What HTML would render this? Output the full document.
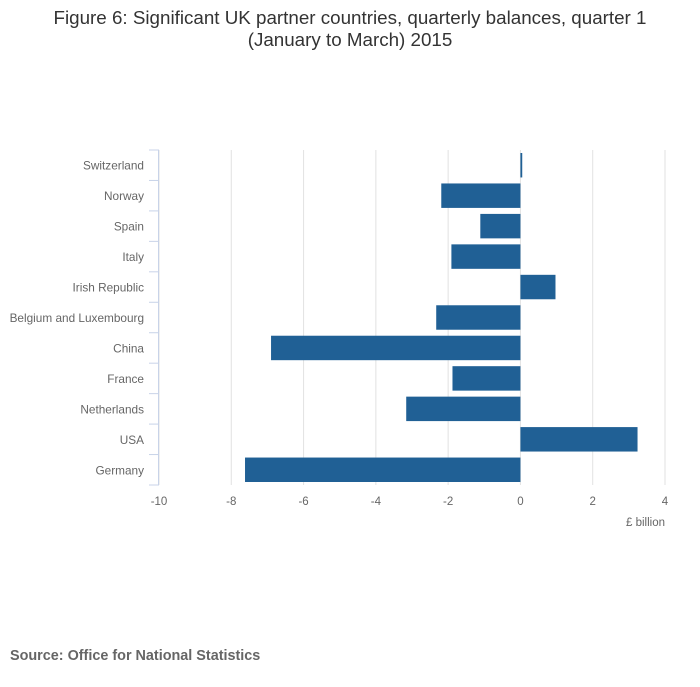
<!DOCTYPE html>
<html><head><meta charset="utf-8"><style>
body{margin:0;background:#fff;font-family:"Liberation Sans","DejaVu Sans",sans-serif}
</style></head><body>
<svg width="700" height="682" xmlns="http://www.w3.org/2000/svg">
<text x="350" y="24" text-anchor="middle" font-size="18.8" fill="#333">Figure 6: Significant UK partner countries, quarterly balances, quarter 1</text>
<text x="350" y="46" text-anchor="middle" font-size="18.8" fill="#333">(January to March) 2015</text>
<g id="grid"></g>
<g id="bars"></g>
<g id="axes"></g>
<text x="665" y="526" text-anchor="end" font-size="11.5" fill="#666">£ billion</text>
<text x="10" y="660" font-size="14.4" font-weight="bold" fill="#666">Source: Office for National Statistics</text>
</svg>
<script>
const categories=["Switzerland","Norway","Spain","Italy","Irish Republic","Belgium and Luxembourg","China","France","Netherlands","USA","Germany"];
const values=[0.05,-2.19,-1.11,-1.91,0.97,-2.33,-6.9,-1.88,-3.16,3.24,-7.62];
const xTicks=[-10,-8,-6,-4,-2,0,2,4];
const NS="http://www.w3.org/2000/svg";
const x0=159,x1=665,xmin=-10,xmax=4,yTop=150,yBottom=485;
const xs=v=>x0+(v-xmin)/(xmax-xmin)*(x1-x0);
const band=(yBottom-yTop)/categories.length;
const ys=i=>yTop+i*band;
function mk(t,a,p){const e=document.createElementNS(NS,t);for(const k in a)e.setAttribute(k,a[k]);p.appendChild(e);return e;}
const grid=document.getElementById('grid'),bars=document.getElementById('bars'),axes=document.getElementById('axes');
xTicks.forEach(t=>{
 const l=mk('line',{x1:xs(t),x2:xs(t),y1:yTop,y2:yBottom,stroke:'#e2e2e2','stroke-width':1},grid);
 
 
 const tx=mk('text',{x:xs(t),y:505,'text-anchor':'middle','font-size':11.5,fill:'#666'},axes);
 tx.textContent=t;
 
 
});
mk('line',{x1:x0-0.5,x2:x0-0.5,y1:yTop,y2:yBottom,stroke:'#c8d3e8','stroke-width':1},axes);
categories.forEach((c,i)=>{
 const y=ys(i);
 mk('line',{x1:x0-10,x2:x0,y1:y,y2:y,stroke:'#c8d3e8'},axes);
 if(i==categories.length-1)mk('line',{x1:x0-10,x2:x0,y1:y+band,y2:y+band,stroke:'#c8d3e8'},axes);
 const tx=mk('text',{x:144,y:y+band/2+4.5,'text-anchor':'end','font-size':11.8,fill:'#666'},axes);
 tx.textContent=c;
 
 
 const v=values[i];
 const r=mk('rect',{x:Math.min(xs(0),xs(v)),y:y+3,width:Math.abs(xs(v)-xs(0)),height:band-6,fill:'#206095'},bars);
 
 
});
</script>
</body></html>
